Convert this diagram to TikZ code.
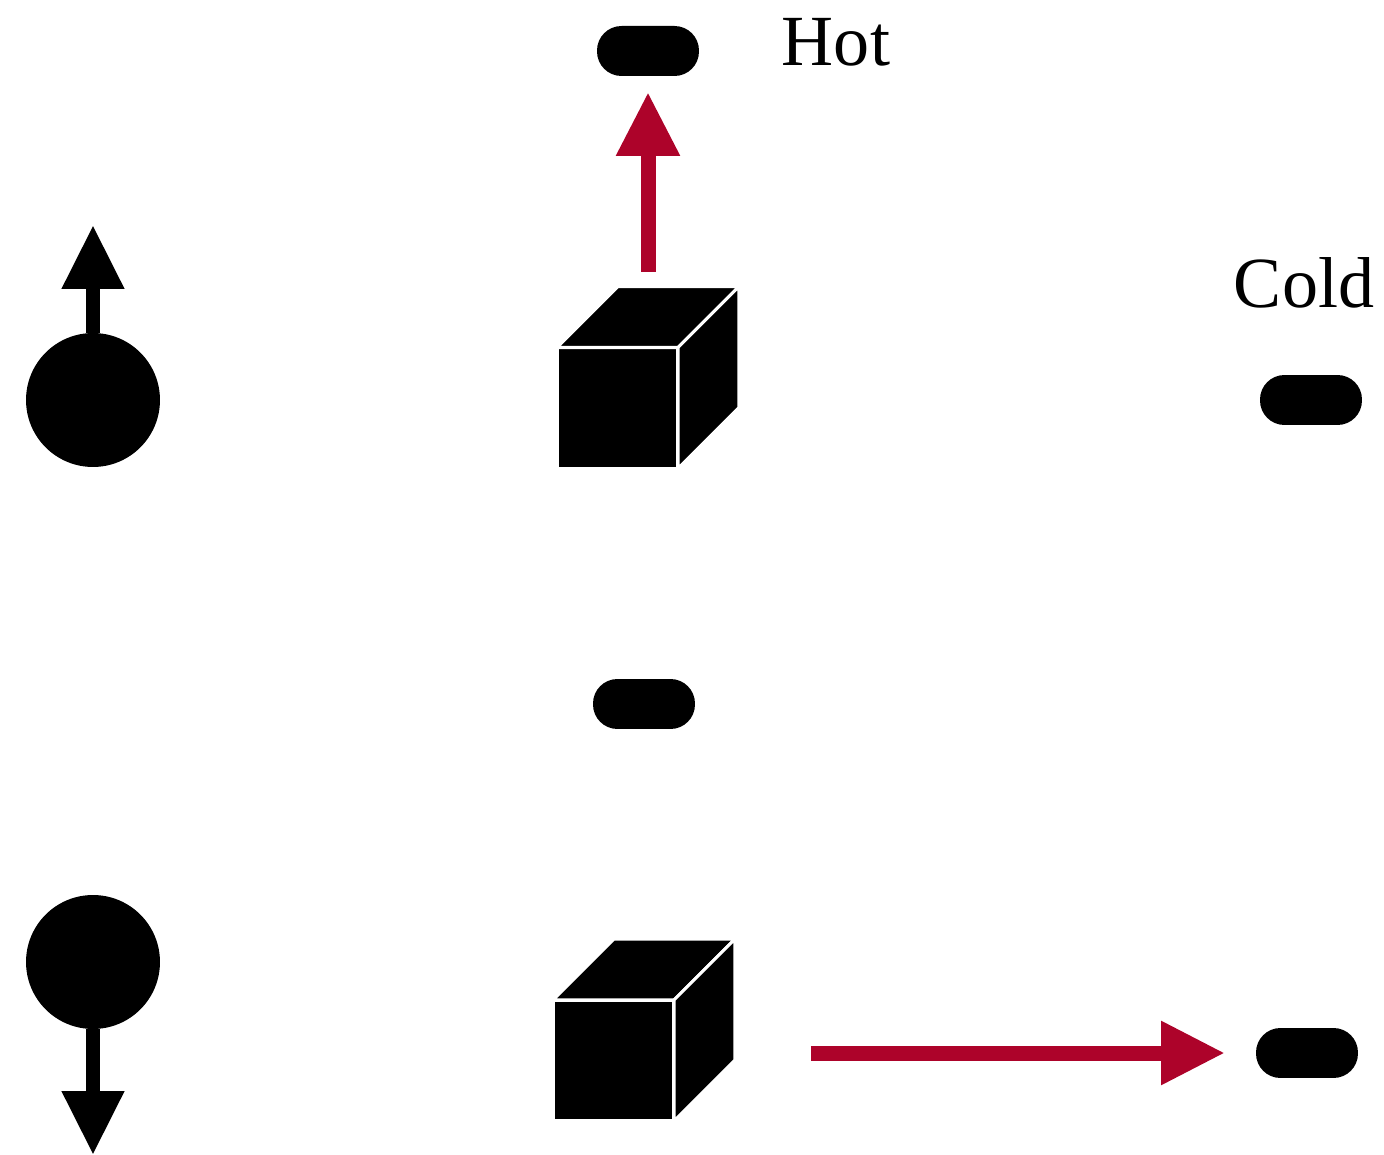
\documentclass[tikz,border=0pt]{standalone}
\usepackage{fontspec}
\setmainfont{Liberation Serif}
\usetikzlibrary{arrows.meta,calc}
\definecolor{heatred}{RGB}{173,3,42}
\tikzset{
  pill/.style={fill=black, rounded corners=0.49cm, minimum width=2.04cm, minimum height=1.0cm, inner sep=0, outer sep=0},
  ball/.style={circle, fill=black, minimum size=2.68cm, inner sep=0, outer sep=0},
  cubebox/.style={minimum width=3.64cm, minimum height=3.64cm, inner sep=0, outer sep=0},
  cubeface/.style={fill=black, draw=white, line width=1.8pt, line join=miter},
  spinarrow/.style={line width=0.28cm, -{Triangle[length=1.28cm,width=1.18cm]}},
  heatarrow/.style={line width=0.3cm, draw=heatred, -{Triangle[length=1.28cm,width=1.2cm]}},
  label/.style={font=\fontsize{41}{45}\selectfont, inner sep=0, anchor=base}
}
\begin{document}
\begin{tikzpicture}[x=0.02cm, y=-0.02cm]
\useasboundingbox (0,0) rectangle (1384,1155);
% balls
\node[ball] (ballA) at (93,400) {};
\node[ball] (ballB) at (93,962) {};
\coordinate (tipA) at (93,225);
\coordinate (tipB) at (93,1155);
\draw[spinarrow] (ballA.north) -- (tipA);
\draw[spinarrow] (ballB.south) -- (tipB);
% cubes
\node[cubebox] (cubeA) at (648,377.5) {};
\node[cubebox] (cubeB) at (644,1030) {};
\foreach \c in {cubeA,cubeB}{
  \path[cubeface] (\c.south west) -- ++(121,0) -- ++(0,-121) -- ++(-121,0) -- cycle;
  \path[cubeface] (\c.south west) ++(0,-121) -- ++(121,0) -- ++(61,-61) -- ++(-121,0) -- cycle;
  \path[cubeface] (\c.south west) ++(121,0) -- ++(61,-61) -- ++(0,-121) -- ++(-61,61) -- cycle;
}
% pills
\node[pill] (pillA) at (648,51) {};
\node[pill] (pillB) at (1311,400) {};
\node[pill] (pillC) at (644,704) {};
\node[pill] (pillD) at (1307,1053) {};
% labels
\node[label] (hot) at (836,66) {Hot};
\node[label] (cold) at (1304,308) {Cold};
% heat arrows
\draw[heatarrow, shorten <=0.3cm, shorten >=0.32cm] (cubeA.north) -- (pillA.south);
\draw[heatarrow, shorten <=1.52cm, shorten >=0.62cm] (cubeB.east |- pillD.west) -- (pillD.west);
\end{tikzpicture}
\end{document}
